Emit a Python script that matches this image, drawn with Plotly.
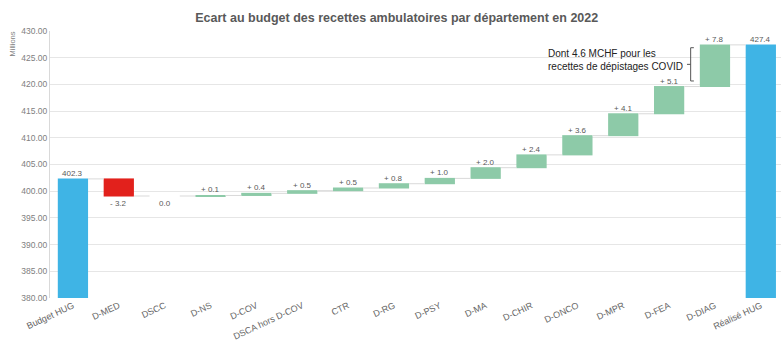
import plotly.graph_objects as go

categories = ["Budget HUG", "D-MED", "DSCC", "D-NS", "D-COV", "DSCA hors D-COV", "CTR",
              "D-RG", "D-PSY", "D-MA", "D-CHIR", "D-ONCO", "D-MPR", "D-FEA", "D-DIAG", "Réalisé HUG"]
values = [402.3, -3.2, 0.0, 0.1, 0.4, 0.5, 0.5, 0.8, 1.0, 2.0, 2.4, 3.6, 4.1, 5.1, 7.8, 427.4]
measures = ["absolute"] + ["relative"] * 14 + ["total"]
y_ticks = [380, 385, 390, 395, 400, 405, 410, 415, 420, 425, 430]
note_text = "Dont 4.6 MCHF pour les<br>recettes de dépistages COVID"

BLUE = "#3fb4e5"
RED = "#e2211c"
GREEN = "#8dcaa8"
FONT = "Liberation Sans, Arial, sans-serif"
LABEL_FONT = dict(size=8, color="#595959", family=FONT)

# label positions derived from the running total
ann = []
running = 0.0
for cat, v, m in zip(categories, values, measures):
    if m == "absolute":
        lo, hi = 0, v
        running = v
        txt, pos = f"{v:.1f}", "top"
    elif m == "total":
        lo, hi = 0, running
        txt, pos = f"{v:.1f}", "top"
    else:
        start = running
        running = round(running + v, 4)
        lo, hi = min(start, running), max(start, running)
        if v > 0:
            txt, pos = f"+ {v:.1f}", "top"
        elif v < 0:
            txt, pos = f"- {abs(v):.1f}", "bottom"
        else:
            txt, pos = f"{v:.1f}", "bottom"
    if pos == "top":
        ann.append(dict(x=cat, y=hi, text=txt, showarrow=False, yanchor="bottom", yshift=-1, font=LABEL_FONT))
    else:
        ann.append(dict(x=cat, y=lo, text=txt, showarrow=False, yanchor="top", yshift=-1, font=LABEL_FONT))

fig = go.Figure(go.Waterfall(
    x=categories, y=values, measure=measures,
    increasing=dict(marker=dict(color=GREEN)),
    decreasing=dict(marker=dict(color=RED)),
    totals=dict(marker=dict(color=BLUE)),
    connector=dict(line=dict(color="#d9d9d9", width=1)),
    width=0.66,
    textposition="none",
    hoverinfo="x+y",
))

ann.append(dict(x=0, xref="paper", y=1, yref="paper", xanchor="center", yanchor="top",
                xshift=-38, yshift=1, text="Millions", textangle=-90, showarrow=False,
                font=dict(size=7.5, color="#808080", family=FONT)))
ann.append(dict(x=10.32, y=424.6, xref="x", yref="y", xanchor="left", yanchor="middle",
                align="left", text=note_text, showarrow=False,
                font=dict(size=10, color="#222222", family=FONT)))

bx, y0, y1 = 13.47, 420.64, 426.87
ym = (y0 + y1) / 2
bracket = dict(color="#555555", width=1)
shapes = [
    dict(type="line", xref="x", yref="y", x0=bx, x1=bx, y0=y0, y1=y1, line=bracket),
    dict(type="line", xref="x", yref="y", x0=bx, x1=bx + 0.07, y0=y0, y1=y0, line=bracket),
    dict(type="line", xref="x", yref="y", x0=bx, x1=bx + 0.07, y0=y1, y1=y1, line=bracket),
    dict(type="line", xref="x", yref="y", x0=bx - 0.08, x1=bx, y0=ym, y1=ym, line=bracket),
]

fig.update_layout(
    width=781, height=346,
    margin=dict(l=50, r=0, t=31, b=48),
    paper_bgcolor="white", plot_bgcolor="white",
    showlegend=False,
    title=dict(text="<b>Ecart au budget des recettes ambulatoires par département en 2022</b>",
               x=0.508, xanchor="center", y=0.95, yanchor="middle",
               font=dict(size=12.5, color="#595959", family=FONT)),
    annotations=ann,
    shapes=shapes,
    font=dict(family=FONT),
)
fig.update_xaxes(range=[-0.5, 15.44], tickangle=-25, tickfont=dict(size=9, color="#666666", family=FONT),
                 showgrid=False, showline=False, ticks="")
fig.update_yaxes(range=[380, 430], tickvals=y_ticks, tickformat=".2f",
                 tickfont=dict(size=8.5, color="#808080", family=FONT),
                 showgrid=True, gridcolor="#e6e6e6", gridwidth=1, zeroline=False,
                 showline=True, linecolor="#d9d9d9", ticks="")

fig.write_html("out.html")
